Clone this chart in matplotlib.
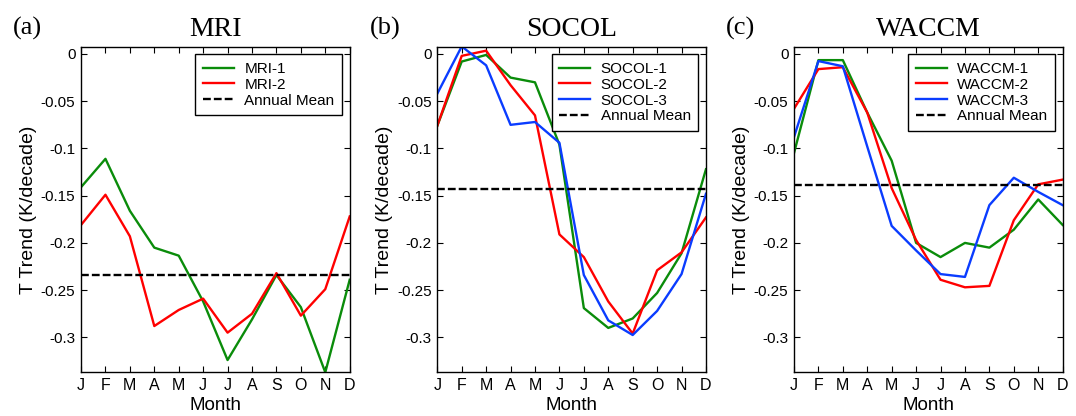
import matplotlib
matplotlib.use("Agg")
import matplotlib.pyplot as plt

months = ["J", "F", "M", "A", "M", "J", "J", "A", "S", "O", "N", "D"]

mri_1 = [-0.141, -0.111, -0.166, -0.205, -0.2135, -0.262, -0.324, -0.281, -0.234, -0.268, -0.337, -0.239]
mri_2 = [-0.181, -0.149, -0.193, -0.288, -0.271, -0.259, -0.295, -0.275, -0.232, -0.277, -0.249, -0.172]
mri_mean = -0.234

socol_1 = [-0.076, -0.008, -0.001, -0.025, -0.030, -0.096, -0.269, -0.290, -0.280, -0.253, -0.211, -0.122]
socol_2 = [-0.076, -0.002, 0.0035, -0.033, -0.065, -0.191, -0.215, -0.262, -0.296, -0.229, -0.210, -0.173]
socol_3 = [-0.042, 0.008, -0.012, -0.075, -0.072, -0.094, -0.234, -0.282, -0.2975, -0.272, -0.233, -0.148]
socol_mean = -0.143

waccm_1 = [-0.105, -0.0065, -0.0065, -0.062, -0.113, -0.200, -0.215, -0.200, -0.205, -0.186, -0.154, -0.181]
waccm_2 = [-0.058, -0.016, -0.014, -0.062, -0.142, -0.197, -0.239, -0.247, -0.2455, -0.176, -0.138, -0.133]
waccm_3 = [-0.088, -0.0075, -0.013, -0.098, -0.182, -0.208, -0.233, -0.236, -0.160, -0.131, -0.146, -0.160]
waccm_mean = -0.139

yticks = [0, -0.05, -0.1, -0.15, -0.2, -0.25, -0.3]
ytick_labels = ["0", "-0.05", "-0.1", "-0.15", "-0.2", "-0.25", "-0.3"]

panels = [
    ("(a)", "MRI", [("MRI-1", mri_1), ("MRI-2", mri_2)], mri_mean),
    ("(b)", "SOCOL", [("SOCOL-1", socol_1), ("SOCOL-2", socol_2), ("SOCOL-3", socol_3)], socol_mean),
    ("(c)", "WACCM", [("WACCM-1", waccm_1), ("WACCM-2", waccm_2), ("WACCM-3", waccm_3)], waccm_mean),
]

colors = ["#0a8c0a", "#ff0000", "#0a3cff"]
sans = ["Liberation Sans", "DejaVu Sans"]
serif = ["Liberation Serif", "DejaVu Serif"]

fig = plt.figure(figsize=(10.76, 4.16), dpi=100)
lefts = [0.0753, 0.4064, 0.7379]
width = 0.2497
bottom = 0.105
height = 0.7827

x = list(range(1, 13))
for i, (lab, title, series, mean) in enumerate(panels):
    ax = fig.add_axes([lefts[i], bottom, width, height])
    for j, (name, vals) in enumerate(series):
        ax.plot(x, vals, color=colors[j], lw=1.7, label=name)
    ax.axhline(mean, color="black", lw=1.7, ls=(0, (3.3, 1.3)), label="Annual Mean")
    ax.set_xlim(1, 12)
    ax.set_ylim(-0.337, 0.0077)
    ax.set_xticks(x)
    ax.set_xticklabels(months, fontfamily=sans, fontsize=11.5)
    ax.set_yticks(yticks)
    ax.set_yticklabels(ytick_labels, fontfamily=sans, fontsize=11)
    ax.tick_params(direction="in", top=True, right=True, length=4, width=0.8, pad=4)
    for sp in ax.spines.values():
        sp.set_linewidth(1.0)
    ax.set_xlabel("Month", fontfamily=sans, fontsize=13.5, labelpad=3)
    ax.set_ylabel("T Trend (K/decade)", fontfamily=sans, fontsize=14, labelpad=3)
    ax.set_title(title, fontfamily=serif, fontsize=20, pad=8)
    leg = ax.legend(loc="upper right", prop={"family": sans, "size": 11}, fancybox=False,
                    edgecolor="black", framealpha=1, borderaxespad=0.5, handlelength=2.0,
                    labelspacing=0.12, borderpad=0.5, handletextpad=0.7)
    leg.get_frame().set_linewidth(1.0)
    fig.text(lefts[i] - 0.063, 0.905, lab, fontfamily=serif, fontsize=19, ha="left", va="bottom")

fig.savefig("out.png", dpi=100)
